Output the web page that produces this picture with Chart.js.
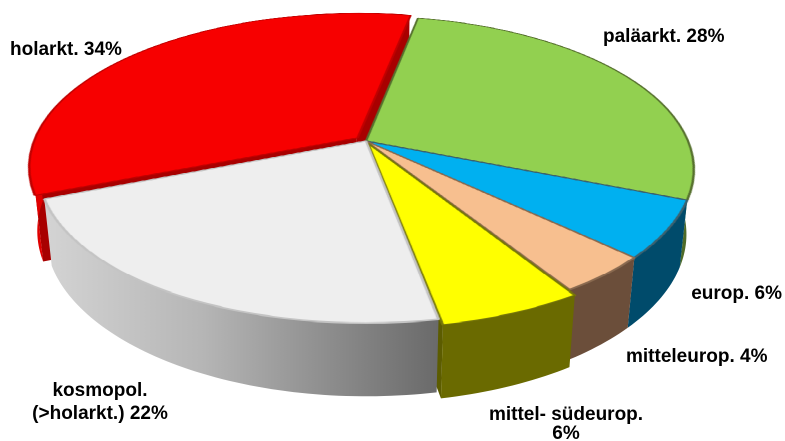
<!DOCTYPE html>
<html>
<head>
<meta charset="utf-8">
<script src="https://cdn.jsdelivr.net/npm/chart.js@4.4.1/dist/chart.umd.min.js"></script>
<style>
  html, body { margin: 0; background: #fff; }
  #wrap { width: 785px; height: 441px; }
</style>
</head>
<body>
<div id="wrap"><canvas id="c"></canvas></div>
<script>
// data, clockwise from the top
const categories = ['paläarkt.', 'europ.', 'mitteleurop.', 'mittel- südeurop.', 'kosmopol. (>holarkt.)', 'holarkt.']
const shares = [28, 6, 4, 6, 22, 34]
const labelText = ['paläarkt. {v}%', 'europ. {v}%', 'mitteleurop. {v}%', 'mittel- südeurop.\n{v}%', 'kosmopol.\n(>holarkt.) {v}%', 'holarkt. {v}%']

// look
const topColors = ['#92d050', '#00b0f0', '#f7bf8f', '#ffff00', '#eeeeee', '#f70000']
const edgeColors = ['#56702e', '#3b6270', '#8a6a50', '#77770a', '#c4c4c4', '#c00000']
const wallColors = ['#4f6b28', '#004b6b', '#6b4e3a', '#6a6a00', 'grey', '#e00000']
const faceColors = ['#4f6b28', '#004b6b', '#6b4e3a', '#5c5c00', '#9a9a9a', '#a80000']
const explode = [0, 0, 0, 14, 0, 28]
// label anchors: [x, baseline, align, line gap]
const labelPos = [[603, 42, 'left', 0], [782, 299, 'right', 0], [626, 362, 'left', 0],
  [566, 420, 'center', 19], [100, 396, 'center', 23], [10, 55, 'left', 0]]

// camera for the tilted disc
const CX = 366, CY = 141        // apex on screen
const M = 322                   // px per disc radius at apex depth
const SIN_A = 0.46, COS_A = 0.888
const PERSP = 0.21              // disc radius / camera distance
const THICK = 0.228             // disc thickness / radius

function P(u, w, h) {
  const D = 1 - PERSP * (w * COS_A + h * SIN_A)
  return [CX + M * u / D, CY + M * (w * SIN_A - h * COS_A) / D]
}
function geom(chart) {
  const arcs = chart.getDatasetMeta(0).data
  const a0 = arcs[0]
  return { arcs, ox: a0.x, oy: a0.y, R: a0.outerRadius }
}
function shift(g, arc) {
  const off = arc.options.offset || 0
  const circ = arc.endAngle - arc.startAngle
  const d = off / 4 * (2 - Math.sin(Math.min(Math.PI, circ)))
  const mid = (arc.startAngle + arc.endAngle) / 2
  return [d * Math.cos(mid) / g.R, d * Math.sin(mid) / g.R]
}
function rimPt(g, arc, t, h) {
  const s = shift(g, arc)
  return P(s[0] + Math.cos(t), s[1] + Math.sin(t), h)
}
function frontSpans(s, e) {
  const out = []
  for (let k = -1; k <= 1; k++) {
    const lo = Math.max(s, 2 * Math.PI * k), hi = Math.min(e, 2 * Math.PI * k + Math.PI)
    if (hi > lo) out.push([lo, hi])
  }
  return out
}
function wallFill(ctx, i, lo, hi, g, arc) {
  if (wallColors[i] !== 'grey') return wallColors[i]
  const a = rimPt(g, arc, hi, 0), b = rimPt(g, arc, lo, 0)
  const grad = ctx.createLinearGradient(a[0], 0, b[0], 0)
  grad.addColorStop(0, '#d4d4d4')
  grad.addColorStop(0.4, '#b6b6b6')
  grad.addColorStop(1, '#6a6a6a')
  return grad
}
function drawWalls(ctx, g, arc, i) {
  frontSpans(arc.startAngle, arc.endAngle).forEach(([lo, hi]) => {
    const n = Math.max(2, Math.ceil((hi - lo) / 0.02))
    ctx.beginPath()
    for (let k = 0; k <= n; k++) {
      const p = rimPt(g, arc, lo + (hi - lo) * k / n, 0)
      k ? ctx.lineTo(p[0], p[1]) : ctx.moveTo(p[0], p[1])
    }
    for (let k = n; k >= 0; k--) {
      const p = rimPt(g, arc, lo + (hi - lo) * k / n, -THICK)
      ctx.lineTo(p[0], p[1])
    }
    ctx.closePath()
    ctx.fillStyle = wallFill(ctx, i, lo, hi, g, arc)
    ctx.fill()
  })
}
function drawFace(ctx, g, arc, i, t) {
  const s = shift(g, arc)
  const pts = [P(s[0], s[1], 0), rimPt(g, arc, t, 0), rimPt(g, arc, t, -THICK), P(s[0], s[1], -THICK)]
  ctx.beginPath()
  pts.forEach((p, k) => k ? ctx.lineTo(p[0], p[1]) : ctx.moveTo(p[0], p[1]))
  ctx.closePath()
  ctx.fillStyle = faceColors[i]
  ctx.fill()
}
function drawFaces(ctx, g, arc, i) {
  if (!explode[i]) return
  if (-Math.cos(arc.startAngle) > 0) drawFace(ctx, g, arc, i, arc.startAngle)
  if (Math.cos(arc.endAngle) > 0) drawFace(ctx, g, arc, i, arc.endAngle)
}
function inFront(arc, i) {
  return explode[i] > 0 && Math.sin((arc.startAngle + arc.endAngle) / 2) > 0
}
function topClip(ctx, g, arc) {
  const s = shift(g, arc)
  const c = P(s[0], s[1], 0)
  ctx.beginPath()
  ctx.moveTo(c[0], c[1])
  const n = 60
  for (let k = 0; k <= n; k++) {
    const p = rimPt(g, arc, arc.startAngle + (arc.endAngle - arc.startAngle) * k / n, 0)
    ctx.lineTo(p[0], p[1])
  }
  ctx.closePath()
  ctx.clip()
}
// lay the flat pie that Chart.js drew onto the tilted disc, row by row
function warpTops(ctx, g, off, dpr) {
  const cw = off.width, ch = off.height
  ctx.save()
  ctx.setTransform(1, 0, 0, 1, 0, 0)
  for (let Y = 0; Y < ch; Y++) {
    const dy = (Y + 0.5) / dpr - CY
    const w = dy / (M * SIN_A + dy * PERSP * COS_A)
    if (w < -1.3 || w > 1.3) continue
    const D = 1 - PERSP * w * COS_A
    const sc = M / (g.R * D)
    const srcY = Math.floor((g.oy + w * g.R) * dpr)
    if (srcY < 0 || srcY >= ch) continue
    ctx.drawImage(off, 0, srcY, cw, 1, (CX - sc * g.ox) * dpr, Y, cw * sc, 1)
  }
  ctx.restore()
}

const pie3d = {
  id: 'pie3d',
  afterDatasetsDraw(chart) {
    const ctx = chart.ctx, g = geom(chart)
    const dpr = chart.currentDevicePixelRatio
    const off = document.createElement('canvas')
    off.width = chart.canvas.width
    off.height = chart.canvas.height
    off.getContext('2d').drawImage(chart.canvas, 0, 0)
    ctx.save()
    ctx.setTransform(1, 0, 0, 1, 0, 0)
    ctx.clearRect(0, 0, off.width, off.height)
    ctx.restore()

    // back to front: cut faces, outer walls, tops, then slices pulled toward the viewer
    g.arcs.forEach((arc, i) => drawFaces(ctx, g, arc, i))
    g.arcs.forEach((arc, i) => { if (!inFront(arc, i)) drawWalls(ctx, g, arc, i) })
    warpTops(ctx, g, off, dpr)
    g.arcs.forEach((arc, i) => {
      if (!inFront(arc, i)) return
      drawWalls(ctx, g, arc, i)
      ctx.save()
      topClip(ctx, g, arc)
      warpTops(ctx, g, off, dpr)
      ctx.restore()
    })
  },
  afterDraw(chart) {
    const ctx = chart.ctx
    ctx.save()
    ctx.font = 'bold 19px "Liberation Sans", Arial, sans-serif'
    ctx.fillStyle = '#000'
    ctx.textBaseline = 'alphabetic'
    labelText.forEach((txt, i) => {
      const [x, y, align, gap] = labelPos[i]
      ctx.textAlign = align
      txt.replace('{v}', shares[i]).split('\n').forEach((line, k) => {
        ctx.fillText(line, x, y + k * gap)
      })
    })
    ctx.restore()
  }
}

new Chart(document.getElementById('c'), {
  type: 'pie',
  data: {
    labels: categories,
    datasets: [{
      data: shares,
      backgroundColor: topColors,
      borderColor: edgeColors,
      borderWidth: 1.5,
      offset: explode,
      clip: false
    }]
  },
  options: {
    responsive: true,
    maintainAspectRatio: false,
    devicePixelRatio: 2,
    animation: false,
    events: [],
    rotation: 11,
    plugins: { legend: { display: false }, tooltip: { enabled: false } }
  },
  plugins: [pie3d]
})
</script>
</body>
</html>
